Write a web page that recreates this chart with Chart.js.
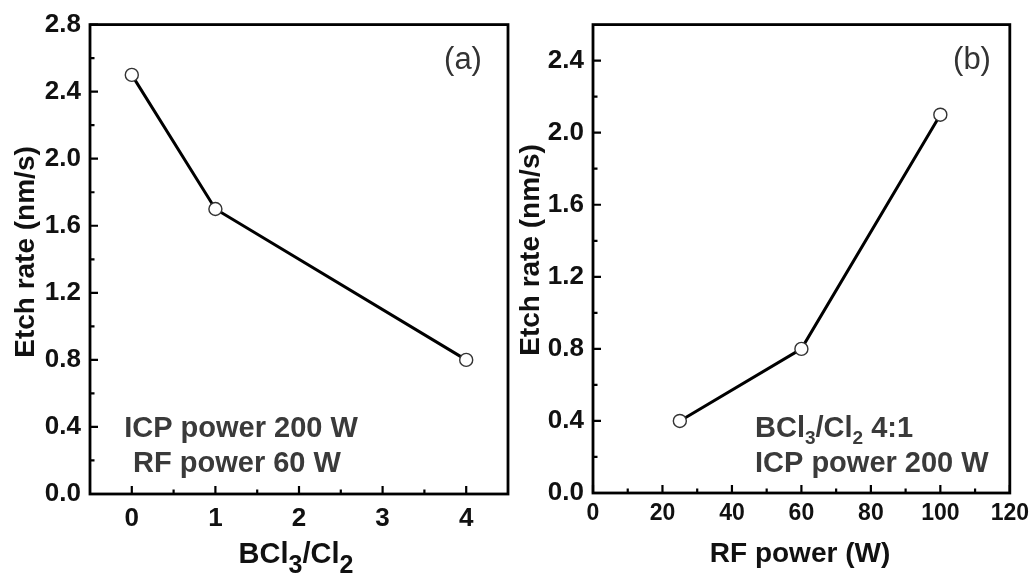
<!DOCTYPE html>
<html>
<head>
<meta charset="utf-8">
<script src="https://cdn.jsdelivr.net/npm/chart.js@4/dist/chart.umd.min.js"></script>
<style>
  body { margin: 0; background: #fff; }
  #wrap { display: flex; width: 1036px; height: 577px; }
  canvas { display: block; }
</style>
</head>
<body>
<div id="wrap">
  <canvas id="chart-a" width="518" height="577"></canvas>
  <canvas id="chart-b" width="518" height="577"></canvas>
</div>
<script>
// panel (a): etch rate vs BCl3/Cl2 ratio
const bcl3Ratio = [0, 1, 4];
const etchRateA = [2.5, 1.7, 0.8];
const xTicksA = [0, 1, 2, 3, 4];
const yTicksA = [0, 0.4, 0.8, 1.2, 1.6, 2.0, 2.4, 2.8];

// panel (b): etch rate vs RF power
const rfPower = [25, 60, 100];
const etchRateB = [0.4, 0.8, 2.1];
const xTicksB = [0, 20, 40, 60, 80, 100, 120];
const yTicksB = [0, 0.4, 0.8, 1.2, 1.6, 2.0, 2.4];

const FONT = "'Liberation Sans', Arial, sans-serif";

// text drawn on top of each panel (sub = subscript)
const notesA = [
    { parts: [{ t: '(a)' }], x: 463, y: 69, size: 31, weight: 'normal', align: 'center', color: '#333' },
    { parts: [{ t: 'ICP power 200 W' }], x: 241, y: 437, size: 29, align: 'center', color: '#3a3a3a' },
    { parts: [{ t: 'RF power 60 W' }], x: 237, y: 472, size: 29, align: 'center', color: '#3a3a3a' },
    { parts: [{ t: 'BCl' }, { t: '3', sub: true }, { t: '/Cl' }, { t: '2', sub: true }], x: 296, y: 563, size: 29, subScale: 0.85, subDrop: 0.33, align: 'center', color: '#111' },
    { parts: [{ t: 'Etch rate (nm/s)' }], x: 26, y: 252, size: 28, align: 'center', color: '#111', rotate: true }
];

const notesB = [
    { parts: [{ t: '(b)' }], x: 972 - 518, y: 69, size: 31, weight: 'normal', align: 'center', color: '#333' },
    { parts: [{ t: 'BCl' }, { t: '3', sub: true }, { t: '/Cl' }, { t: '2', sub: true }, { t: ' 4:1' }], x: 237, y: 437, size: 29, align: 'left', color: '#3a3a3a' },
    { parts: [{ t: 'ICP power 200 W' }], x: 237, y: 472, size: 29, align: 'left', color: '#3a3a3a' },
    { parts: [{ t: 'RF power (W)' }], x: 282, y: 562, size: 28, align: 'center', color: '#111' },
    { parts: [{ t: 'Etch rate (nm/s)' }], x: 13, y: 250, size: 28, align: 'center', color: '#111', rotate: true }
];

// Helpers

function drawRich(ctx, note) {
    const weight = note.weight || 'bold';
    const big = `${weight} ${note.size}px ${FONT}`;
    const small = `${weight} ${Math.round(note.size * (note.subScale || 0.64))}px ${FONT}`;
    const drop = note.size * (note.subDrop || 0.25);
    let w = 0;
    note.parts.forEach(p => {
        ctx.font = p.sub ? small : big;
        w += ctx.measureText(p.t).width;
    });
    ctx.save();
    ctx.fillStyle = note.color;
    ctx.textAlign = 'left';
    let x = note.x;
    let y = note.y;
    if (note.rotate) {
        ctx.translate(note.x, note.y);
        ctx.rotate(-Math.PI / 2);
        ctx.textBaseline = 'middle';
        x = 0;
        y = 0;
    } else {
        ctx.textBaseline = 'alphabetic';
    }
    let cx = note.align === 'center' ? x - w / 2 : x;
    note.parts.forEach(p => {
        ctx.font = p.sub ? small : big;
        ctx.fillText(p.t, cx, p.sub ? y + drop : y);
        cx += ctx.measureText(p.t).width;
    });
    ctx.restore();
}

function minorValues(scale) {
    const v = scale.ticks.map(t => t.value);
    const step = v[1] - v[0];
    const out = [];
    v.forEach(val => {
        const m = val + step / 2;
        if (m < scale.max - 1e-9) out.push(m);
    });
    return out;
}

// box round the plot area, with inward ticks on bottom and left
const framePlugin = {
    id: 'frame',
    beforeDatasetsDraw(chart) {
        const { ctx, chartArea: a, scales: { x, y } } = chart;
        ctx.save();
        ctx.strokeStyle = '#000';
        ctx.lineWidth = 2.2;
        ctx.beginPath();
        x.ticks.forEach(t => {
            const px = x.getPixelForValue(t.value);
            ctx.moveTo(px, a.bottom);
            ctx.lineTo(px, a.bottom - 8);
        });
        minorValues(x).forEach(v => {
            const px = x.getPixelForValue(v);
            ctx.moveTo(px, a.bottom);
            ctx.lineTo(px, a.bottom - 4.5);
        });
        y.ticks.forEach(t => {
            const py = y.getPixelForValue(t.value);
            ctx.moveTo(a.left, py);
            ctx.lineTo(a.left + 8, py);
        });
        minorValues(y).forEach(v => {
            const py = y.getPixelForValue(v);
            ctx.moveTo(a.left, py);
            ctx.lineTo(a.left + 4.5, py);
        });
        ctx.stroke();
        ctx.lineWidth = 2.8;
        ctx.strokeRect(a.left, a.top, a.right - a.left, a.bottom - a.top);
        ctx.restore();
    }
};

function notesPlugin(notes) {
    return {
        id: 'notes',
        afterDraw(chart) {
            notes.forEach(n => drawRich(chart.ctx, n));
        }
    };
}

function makeChart(canvas, xs, ys, xTicks, yTicks, xRange, yRange, box, notes) {
    return new Chart(canvas, {
        type: 'scatter',
        data: {
            datasets: [{
                data: xs.map((v, i) => ({ x: v, y: ys[i] })),
                showLine: true,
                borderColor: '#000',
                borderWidth: 3,
                tension: 0,
                pointRadius: 6.5,
                pointBorderWidth: 1.4,
                pointBorderColor: '#333',
                pointBackgroundColor: '#fff',
                clip: false
            }]
        },
        options: {
            responsive: false,
            animation: false,
            events: [],
            layout: {
                padding: { left: 0, right: box.right, top: box.top, bottom: 0 }
            },
            plugins: {
                legend: { display: false },
                tooltip: { enabled: false }
            },
            scales: {
                x: {
                    type: 'linear',
                    min: xRange[0],
                    max: xRange[1],
                    grid: { display: false, drawTicks: false },
                    border: { display: false },
                    afterBuildTicks: s => { s.ticks = xTicks.map(v => ({ value: v })); },
                    afterFit: s => { s.height = box.xHeight; },
                    ticks: {
                        autoSkip: false,
                        maxRotation: 0,
                        padding: box.xPad,
                        color: '#111',
                        font: { family: FONT, size: box.xFont, weight: 'bold' },
                        callback: v => String(v)
                    }
                },
                y: {
                    type: 'linear',
                    min: yRange[0],
                    max: yRange[1],
                    grid: { display: false, drawTicks: false },
                    border: { display: false },
                    afterBuildTicks: s => { s.ticks = yTicks.map(v => ({ value: v })); },
                    afterFit: s => { s.width = box.yWidth; },
                    ticks: {
                        autoSkip: false,
                        padding: 9,
                        color: '#111',
                        font: { family: FONT, size: 26, weight: 'bold' },
                        callback: v => v.toFixed(1)
                    }
                }
            }
        },
        plugins: [framePlugin, notesPlugin(notes)]
    });
}

makeChart(document.getElementById('chart-a'), bcl3Ratio, etchRateA, xTicksA, yTicksA,
    [-0.5, 4.5], [0, 2.8], { yWidth: 90, xHeight: 83, top: 21, right: 10, xFont: 26, xPad: 9 }, notesA);

makeChart(document.getElementById('chart-b'), rfPower, etchRateB, xTicksB, yTicksB,
    [0, 120], [0, 2.6], { yWidth: 75, xHeight: 84, top: 21, right: 23, xFont: 23, xPad: 7 }, notesB);
</script>
</body>
</html>
